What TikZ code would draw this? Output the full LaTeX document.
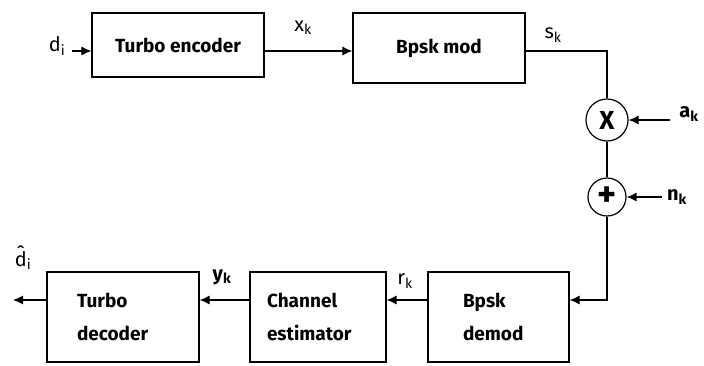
\documentclass[tikz,border=0pt]{standalone}
\usepackage{fontspec}
\setmainfont{Fira Sans}
\usetikzlibrary{arrows.meta}
\begin{document}
\begin{tikzpicture}[x=1pt,y=-1pt,
  blk/.style={draw, line width=1.2pt, font=\fontsize{19}{33}\selectfont\bfseries, align=left},
  op/.style={draw, circle, line width=1.2pt, inner sep=0pt, font=\fontsize{26}{26}\selectfont\bfseries},
  lbl/.style={font=\fontsize{20}{20}\selectfont, inner sep=1pt},
  blbl/.style={font=\fontsize{20}{20}\selectfont\bfseries, inner sep=1pt},
  wire/.style={line width=1.1pt},
  arr/.style={wire, -{Latex[length=10pt,width=9pt]}}]
\useasboundingbox (0,0) rectangle (704,365);
% top row
\node[blk, minimum width=172pt, minimum height=64pt] (enc) at (178,45) {Turbo encoder};
\node[blk, minimum width=172pt, minimum height=70pt] (mod) at (439,48) {Bpsk mod};
\coordinate (r1) at (0,51);
\coordinate (r2) at (0,300);
\node[lbl] (din) at (57,46) {d\textsubscript{i}};
\draw[arr] ([xshift=6pt]din.east |- r1) -- (enc.west |- r1);
\draw[arr] (enc.east |- r1) -- (mod.west |- r1);
\node[lbl] (xk) at (303,28) {x\textsubscript{k}};
\node[lbl] (sk) at (553,35) {s\textsubscript{k}};
% channel
\node[op, minimum size=42pt] (mul) at (607,120) {X};
\node[op, minimum size=38pt, font=\fontsize{36}{36}\selectfont\bfseries] (add) at (607,197) {+};
\coordinate (c1) at (607,51);
\draw[wire] (mod.east |- r1) -- (c1) -- (mul.north);
\draw[wire] (mul.south) -- (add.north);
\node[blbl] (ak) at (689,114) {a\textsubscript{k}};
\node[blbl] (nk) at (677,197) {n\textsubscript{k}};
\coordinate (ain) at (670,120);
\coordinate (nin) at (662,197);
\draw[arr] (ain) -- (mul.east);
\draw[arr] (nin) -- (add.east);
% bottom row
\node[blk, minimum width=141pt, minimum height=90pt, text width=71pt] (dem) at (498.5,317) {Bpsk\\demod};
\node[blk, minimum width=136pt, minimum height=90pt, text width=102pt] (est) at (318,317) {Channel\\estimator};
\node[blk, minimum width=152pt, minimum height=90pt, text width=92pt] (dec) at (123,317) {Turbo\\decoder};
\coordinate (c2) at (607,300);
\draw[arr] (add.south) -- (c2) -- (dem.east |- r2);
\draw[arr] (dem.west |- r2) -- (est.east |- r2);
\draw[arr] (est.west |- r2) -- (dec.east |- r2);
\coordinate (out) at (13,300);
\draw[arr] (dec.west |- r2) -- (out);
\node[lbl] (rk) at (405,281) {r\textsubscript{k}};
\node[blbl] (yk) at (222,277) {y\textsubscript{k}};
\node[lbl] (dhat) at (23,258) {\^{d}\textsubscript{i}};
\end{tikzpicture}
\end{document}
